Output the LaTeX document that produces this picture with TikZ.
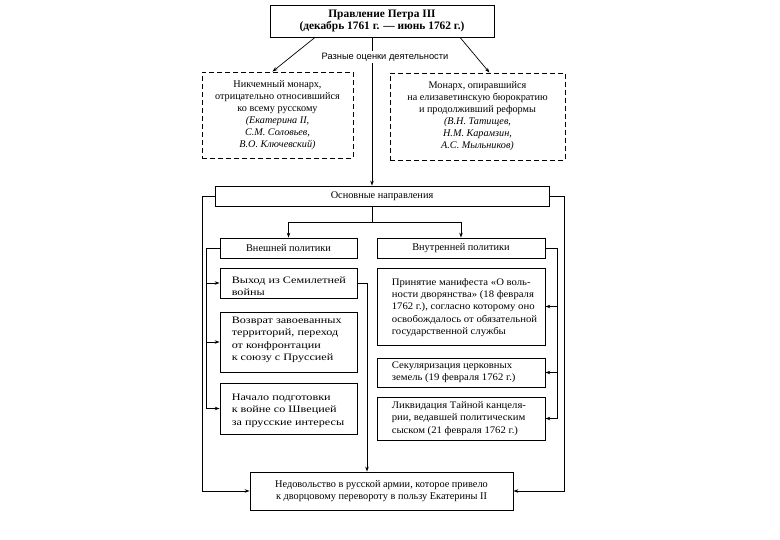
\documentclass[tikz,border=0pt]{standalone}
\usepackage{fontspec}
\setmainfont{Liberation Serif}
\newfontfamily\wideA{Liberation Serif}[FakeStretch=1.24]
\newfontfamily\wideB{Liberation Serif}[FakeStretch=1.07]
\newfontfamily\labsans{Liberation Sans}
\usetikzlibrary{arrows.meta,calc}
\begin{document}
\begin{tikzpicture}[x=1pt,y=-1pt,
  box/.style={draw, line width=0.8pt, inner sep=0pt, align=center, font=\fontsize{10.3}{12}\selectfont},
  dbox/.style={box, dash pattern=on 5pt off 3pt, font=\fontsize{10.2}{12}\selectfont},
  txta/.style={align=left, inner sep=0pt, anchor=west, font=\wideA\fontsize{9.8}{12.4}\selectfont},
  txtb/.style={align=left, inner sep=0pt, anchor=west, font=\wideB\fontsize{10}{12.2}\selectfont},
  conn/.style={line width=0.7pt},
  arr/.style={conn, -{Stealth[length=5pt,width=3.5pt]}}]
\useasboundingbox (0,0) rectangle (780,540);

\node[box, minimum width=224, minimum height=32, font=\bfseries\fontsize{11.4}{12}\selectfont] (top) at (382,21) {Правление Петра III\\(декабрь 1761 г. — июнь 1762 г.)};

\node[dbox, minimum width=151, minimum height=86] (ld) at (277.5,115) {Никчемный монарх,\\отрицательно относившийся\\ко всему русскому\\\textit{(Екатерина II,}\\\textit{С.М. Соловьев,}\\\textit{В.О. Ключевский)}};
\node[dbox, minimum width=175, minimum height=87] (rd) at (477.5,116.5) {Монарх, опиравшийся\\на елизаветинскую бюрократию\\и продолживший реформы\\\textit{(В.Н. Татищев,}\\\textit{Н.М. Карамзин,}\\\textit{А.С. Мыльников)}};

\node[box, minimum width=334, minimum height=20] (osn) at (382,196) {Основные направления};
\node[box, minimum width=137, minimum height=20] (ext) at (288.5,248) {Внешней политики};
\node[box, minimum width=168, minimum height=20] (int) at (461,248) {Внутренней политики};

\node[box, minimum width=137, minimum height=30] (n1) at (288.5,283) {};
\node[box, minimum width=137, minimum height=60] (n2) at (288.5,342) {};
\node[box, minimum width=137, minimum height=51] (n3) at (288.5,408.5) {};
\node[txta] (t1) at ([xshift=12pt,yshift=-3pt]n1.west) {Выход из Семилетней\\войны};
\node[txta] (t2) at ([xshift=12pt,yshift=2pt]n2.west) {Возврат завоеванных\\территорий, переход\\от конфронтации\\к союзу с Пруссией};
\node[txta] (t3) at ([xshift=12pt,yshift=-2pt]n3.west) {Начало подготовки\\к войне со Швецией\\за прусские интересы};

\node[box, minimum width=168, minimum height=77] (m1) at (461,306.5) {};
\node[box, minimum width=168, minimum height=29] (m2) at (461,372.5) {};
\node[box, minimum width=168, minimum height=43] (m3) at (461,418.5) {};
\node[txtb] (u1) at ([xshift=15pt,yshift=-1pt]m1.west) {Принятие манифеста «О воль-\\ности дворянства» (18 февраля\\1762 г.), согласно которому оно\\освобождалось от обязательной\\государственной службы};
\node[txtb] (u2) at ([xshift=15pt]m2.west) {Секуляризация церковных\\земель (19 февраля 1762 г.)};
\node[txtb] (u3) at ([xshift=15pt]m3.west) {Ликвидация Тайной канцеля-\\рии, ведавшей политическим\\сыском (21 февраля 1762 г.)};

\node[box, minimum width=263, minimum height=38] (bot) at (381.5,491) {Недовольство в русской армии, которое привело\\к дворцовому перевороту в пользу Екатерины II};

\coordinate (vx) at (372,0);
\coordinate (xl) at (202,0);
\coordinate (xi) at (206,0);
\coordinate (xr) at (564,0);
\coordinate (xj) at (557,0);
\coordinate (xm) at (367,0);
\coordinate (br) at (372,222);

\draw[arr] ([xshift=-67pt]top.south) -- ([xshift=-5pt]ld.north);
\draw[arr] ([xshift=78pt]top.south) -- ([xshift=12pt]rd.north);
\draw[arr] (top.south -| vx) -- (osn.north -| vx);
\node[fill=white, inner sep=1.5pt, font=\labsans\fontsize{9.3}{11}\selectfont] (lab) at (385,57) {Разные оценки деятельности};

\draw[conn] (osn.south -| vx) -- (br);
\draw[arr] (br) -| (ext.north);
\draw[arr] (br) -| (int.north);
\draw[arr] (osn.west) -- (osn.west -| xl) |- (bot.west);
\draw[arr] (osn.east) -- (osn.east -| xr) |- (bot.east);

\draw[conn] (ext.west) -- (ext.west -| xi) -- (n3.west -| xi);
\foreach \n in {n1,n2,n3} \draw[arr] (\n.west -| xi) -- (\n.west);
\draw[conn] (int.east) -- (int.east -| xj) -- (m3.east -| xj);
\foreach \m in {m1,m2,m3} \draw[arr] (\m.east -| xj) -- (\m.east);
\draw[arr] (n1.east) -| (bot.north -| xm);
\end{tikzpicture}
\end{document}
